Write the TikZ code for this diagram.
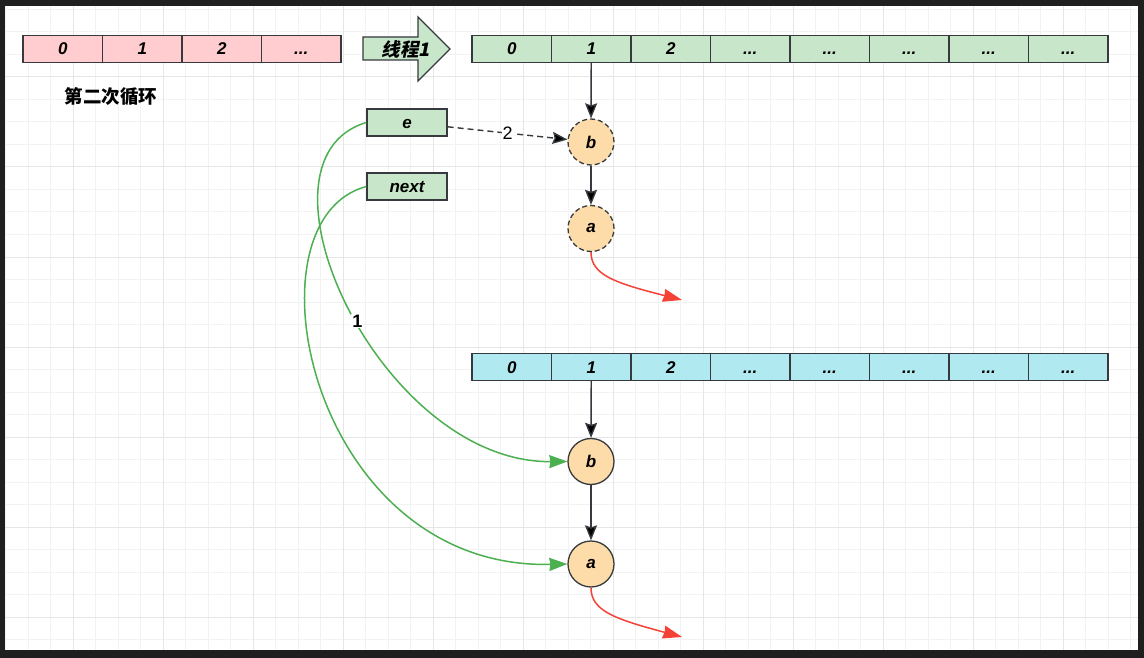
\documentclass[tikz,border=0pt]{standalone}
\usepackage{fontspec}
\setmainfont{Liberation Sans}
\newfontfamily\cjk{Noto Sans CJK SC}
\newfontfamily\cjkit[FakeSlant=0.2,BoldFeatures={FakeSlant=0.2}]{Noto Sans CJK SC}
\usetikzlibrary{arrows.meta}

\definecolor{strokegray}{HTML}{36393D}
\definecolor{pinkfill}{HTML}{FFCCCF}
\definecolor{greenfill}{HTML}{C8E6CA}
\definecolor{bluefill}{HTML}{B0E9F0}
\definecolor{orangefill}{HTML}{FDDCA9}
\definecolor{linkgreen}{HTML}{4CB050}
\definecolor{linkred}{HTML}{F44336}
\definecolor{gridminor}{HTML}{F2F2F2}
\definecolor{gridmajor}{HTML}{E6E6E6}

\begin{document}
\begin{tikzpicture}[x=1pt,y=-1pt,
  cell/.style={draw=strokegray,line width=1.3pt,minimum width=79.5pt,minimum height=26.5pt,inner sep=0pt,
    text height=12pt,text depth=0pt,font=\fontsize{17}{17}\selectfont\bfseries\itshape},
  entry/.style={cell,fill=greenfill,minimum width=80pt,minimum height=27pt},
  item/.style={circle,draw=strokegray,line width=1.3pt,fill=orangefill,minimum size=46pt,inner sep=0pt,
    font=\fontsize{17}{17}\selectfont\bfseries\itshape},
  old/.style={item,dash pattern=on 5pt off 3pt},
  link/.style={draw=strokegray,line width=1.4pt,-{Stealth[length=15pt,width=12pt,inset=2pt]}},
  greenlink/.style={draw=linkgreen,line width=1.5pt,-{Stealth[length=18pt,width=13pt,inset=1pt]}},
  redlink/.style={draw=linkred,line width=1.5pt,-{Stealth[length=19pt,width=13pt,inset=1pt]}},
  tag/.style={fill=white,inner sep=1pt,font=\fontsize{18}{18}\selectfont}]
\useasboundingbox (0,0) rectangle (1144,658);
\fill[black!88] (0,0) rectangle (1144,658);
\fill[white] (5,6) rectangle (1138,650);
% grid
\foreach \i in {0,...,50}
  \draw[gridminor,line width=1pt] ({5.5+22.5*\i},6) -- ({5.5+22.5*\i},650);
\foreach \j in {0,...,28}
  \draw[gridminor,line width=1pt] (5,{9.5+22.5*\j}) -- (1138,{9.5+22.5*\j});
\foreach \i in {0,...,11}
  \draw[gridmajor,line width=1pt] ({73+90*\i},6) -- ({73+90*\i},650);
\foreach \j in {0,...,6}
  \draw[gridmajor,line width=1pt] (5,{77+90*\j}) -- (1138,{77+90*\j});

% first table
\node[cell,fill=pinkfill] (p0) at (62.75,49) {0};
\node[cell,fill=pinkfill] (p1) at (142.25,49) {1};
\node[cell,fill=pinkfill] (p2) at (221.75,49) {2};
\node[cell,fill=pinkfill] (p3) at (301.25,49) {...};
\node[font=\fontsize{18.5}{18.5}\selectfont\bfseries] (round) at (111,97) {\cjk 第二次循环};

% thread arrow
\draw[fill=greenfill,draw=strokegray,line width=1.3pt] (363,37) -- (418,37) -- (418,17) -- (450,49)
  -- (418,81) -- (418,60) -- (363,60) -- cycle;
\node[font=\fontsize{18.5}{18.5}\selectfont\bfseries] (thread) at (406,49) {\cjkit 线程1};

% old table
\node[cell,fill=greenfill] (g0) at (511.75,49) {0};
\node[cell,fill=greenfill] (g1) at (591.25,49) {1};
\node[cell,fill=greenfill] (g2) at (670.75,49) {2};
\node[cell,fill=greenfill] (g3) at (750.25,49) {...};
\node[cell,fill=greenfill] (g4) at (829.75,49) {...};
\node[cell,fill=greenfill] (g5) at (909.25,49) {...};
\node[cell,fill=greenfill] (g6) at (988.75,49) {...};
\node[cell,fill=greenfill] (g7) at (1068.25,49) {...};

% new table
\node[cell,fill=bluefill] (n0) at (511.75,367) {0};
\node[cell,fill=bluefill] (n1) at (591.25,367) {1};
\node[cell,fill=bluefill] (n2) at (670.75,367) {2};
\node[cell,fill=bluefill] (n3) at (750.25,367) {...};
\node[cell,fill=bluefill] (n4) at (829.75,367) {...};
\node[cell,fill=bluefill] (n5) at (909.25,367) {...};
\node[cell,fill=bluefill] (n6) at (988.75,367) {...};
\node[cell,fill=bluefill] (n7) at (1068.25,367) {...};

% pointers
\node[entry] (e) at (407,122.5) {e};
\node[entry] (next) at (407,186.5) {next};

% entries
\node[old] (bold) at (591,142) {b};
\node[old] (aold) at (591,228.5) {a};
\node[item] (bnew) at (591,461.5) {b};
\node[item] (anew) at (591,564) {a};
\coordinate (tail1) at (682,300);
\coordinate (tail2) at (682,637);

\path[link]
(g1) edge (bold)
(bold) edge (aold)
(n1) edge (bnew)
(bnew) edge (anew)
(e) edge[dash pattern=on 6pt off 4pt] node[tag] {2} (bold);

\draw[greenlink] (e.west) .. controls (240,160) and (380,463) .. (bnew.west)
  node[tag,pos=0.53,font=\fontsize{18}{18}\selectfont\bfseries] {1};
\draw[greenlink] (next.west) .. controls (240,220) and (310,570) .. (anew.west);
\draw[redlink] (aold.south) .. controls (591,275) and (615,283) .. (tail1);
\draw[redlink] (anew.south) .. controls (591,611) and (615,619) .. (tail2);
\end{tikzpicture}
\end{document}
